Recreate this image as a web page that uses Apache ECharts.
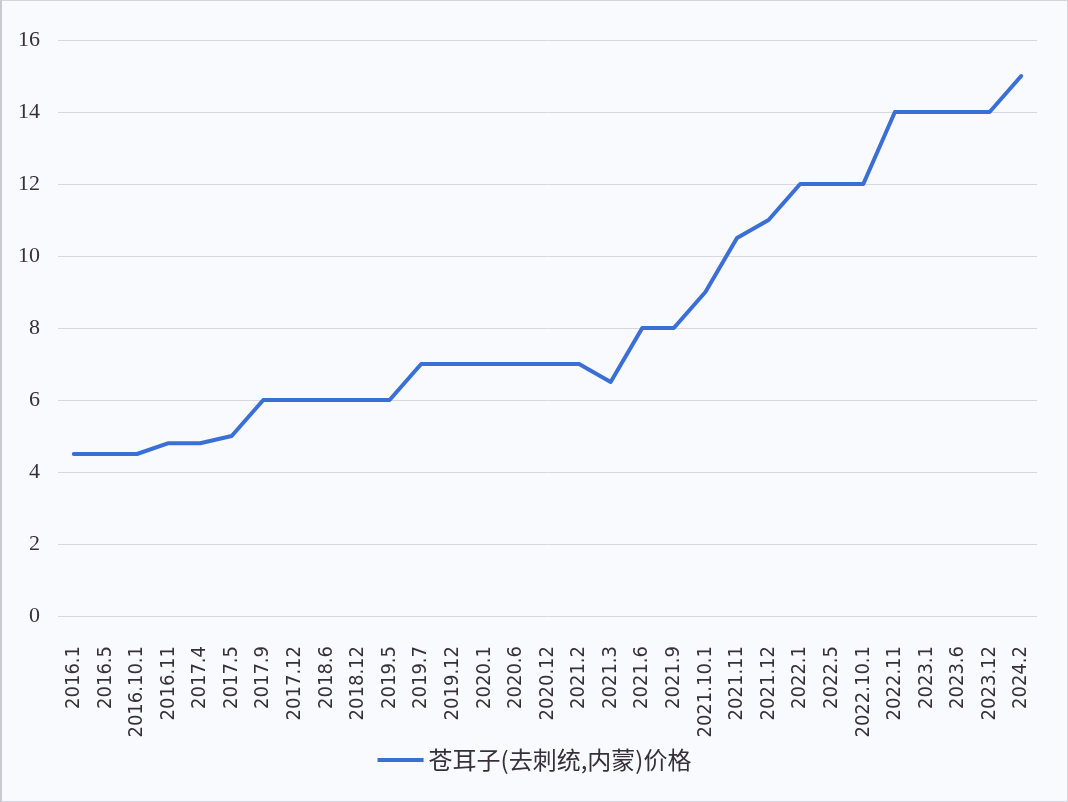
<!DOCTYPE html>
<html><head><meta charset="utf-8">
<script src="https://cdn.jsdelivr.net/npm/echarts@6/dist/echarts.min.js"></script>
<style>html,body{margin:0;padding:0;background:#fff}#c{width:1068px;height:802px;box-sizing:border-box;border:1px solid #d4d4dc;border-left:2px solid #c8c8d0;background:#f9fafd}</style>
</head><body><div id="c"></div>
<script>
const categories = ["2016.1","2016.5","2016.10.1","2016.11","2017.4","2017.5","2017.9","2017.12","2018.6","2018.12","2019.5","2019.7","2019.12","2020.1","2020.6","2020.12","2021.2","2021.3","2021.6","2021.9","2021.10.1","2021.11","2021.12","2022.1","2022.5","2022.10.1","2022.11","2023.1","2023.6","2023.12","2024.2"];
const prices = [4.5,4.5,4.5,4.8,4.8,5,6,6,6,6,6,7,7,7,7,7,7,6.5,8,8,9,10.5,11,12,12,12,14,14,14,14,15];
const seriesName = "苍耳子(去刺统,内蒙)价格";
const chart = echarts.init(document.getElementById('c'), null, {renderer:'canvas'});
chart.setOption({
  backgroundColor: 'transparent',
  animation: false,
  grid: {left: 56, right: 30, top: 39, bottom: 185},
  xAxis: {
    type: 'category', data: categories, boundaryGap: true,
    axisLine: {show: false}, axisTick: {show: false},
    axisLabel: {rotate: 90, interval: 0, color: '#363038', fontSize: 20, fontFamily: 'Liberation Sans Narrow, DejaVu Sans Condensed, sans-serif', margin: 30}
  },
  yAxis: {
    type: 'value', min: 0, max: 16, interval: 2,
    axisLine: {show: false}, axisTick: {show: false},
    axisLabel: {color: '#363038', fontSize: 22, fontFamily: 'Liberation Serif, serif', margin: 18},
    splitLine: {lineStyle: {color: '#d5d8e0', width: 1}}
  },
  legend: {
    bottom: 24, left: 'center', itemWidth: 46, itemHeight: 4, icon: 'rect', itemGap: 10,
    textStyle: {fontSize: 24, color: '#363038', fontFamily: 'Noto Sans CJK SC, sans-serif'},
    data: [seriesName]
  },
  series: [{
    name: seriesName, type: 'line', data: prices, showSymbol: false, symbol: 'none',
    lineStyle: {color: '#3a6fd6', width: 4, cap: 'round', join: 'round'},
    itemStyle: {color: '#3a6fd6'}
  }]
});
</script></body></html>
